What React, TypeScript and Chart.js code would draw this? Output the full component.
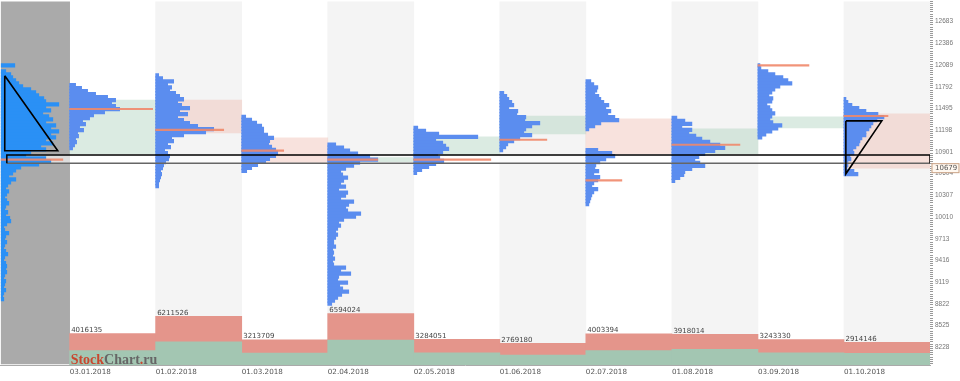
import React, { useEffect, useRef } from 'react';
import { Chart, registerables } from 'chart.js';

Chart.register(...registerables);

// ---- axes / categories ----
const MONTH_LABELS = ['03.01.2018', '01.02.2018', '01.03.2018', '02.04.2018', '02.05.2018', '01.06.2018', '02.07.2018', '01.08.2018', '03.09.2018', '01.10.2018'];
const Y_TICKS = [8228, 8525, 8822, 9119, 9416, 9713, 10010, 10307, 10604, 10901, 11198, 11495, 11792, 12089, 12386, 12683];
const PRICE_MIN = 8001;
const PRICE_MAX = 12954;
const HISTORY_MONTHS = 0.8; // composite panel width, in months
const LAST_PRICE = 10679;

// ---- monthly volume (bottom bars) ----
const VOLUME_TOTAL = [4016135, 6211526, 3213709, 6594024, 3284051, 2769180, 4003394, 3918014, 3243330, 2914146];
const VOLUME_BUY = [1830000, 2980000, 1530000, 3190000, 1570000, 1280000, 1830000, 2000000, 1570000, 1490000];
const VOLUME_AXIS_MAX = 46600000;

// ---- monthly open / close (value boxes) ----
const OPEN = [10878, 11611, 11095, 10769, 10864, 11149, 11353, 10878, 11231, 11421];
const CLOSE = [11611, 11163, 10756, 10824, 11109, 11393, 10878, 11217, 11380, 10679];

// ---- volume profiles (volume per price bin, from month high downward) ----
const PRICE_BIN = 41;
const VOLUME_PER_COLUMN = 86;
const MONTH_HIGH = [11814, 11950, 11380, 11000, 11231, 11706, 11868, 11366, 12085, 11624];
const PROFILE_JAN = [6, 12, 18, 26, 38, 46, 42, 46, 50, 35, 24, 20, 13, 16, 10, 14, 8, 9, 6, 7, 5, 3];
const PROFILE_FEB = [3, 7, 18, 12, 16, 14, 20, 24, 28, 22, 26, 34, 24, 32, 22, 28, 34, 42, 58, 50, 28, 16, 18, 12, 15, 9, 12, 14, 13, 10, 8, 7, 5, 6, 5, 4, 3, 3];
const PROFILE_MAR = [4, 10, 15, 20, 22, 22, 26, 32, 28, 27, 30, 34, 36, 34, 28, 24, 16, 10, 5];
const PROFILE_APR = [8, 16, 22, 30, 42, 50, 32, 26, 18, 13, 15, 20, 16, 13, 18, 11, 20, 18, 13, 26, 21, 18, 20, 33, 28, 16, 11, 13, 10, 8, 10, 8, 6, 6, 8, 5, 6, 5, 7, 5, 6, 18, 13, 23, 11, 10, 20, 12, 15, 21, 14, 10, 7, 4];
const PROFILE_MAY = [4, 12, 25, 64, 22, 29, 32, 35, 29, 24, 26, 30, 22, 15, 8, 3];
const PROFILE_JUN = [4, 7, 9, 12, 14, 9, 18, 17, 26, 25, 40, 32, 26, 24, 32, 20, 14, 8, 6, 3];
const PROFILE_JUL = [5, 8, 12, 11, 9, 13, 15, 18, 23, 20, 25, 22, 29, 33, 15, 9, 3, 0, 0, 0, 0, 0, 0, 12, 26, 29, 20, 14, 10, 9, 13, 8, 14, 12, 8, 6, 12, 8, 6, 5, 4, 3];
const PROFILE_AUG = [5, 13, 20, 10, 20, 17, 24, 30, 38, 48, 53, 43, 33, 27, 23, 28, 33, 20, 13, 12, 8, 3];
const PROFILE_SEP = [2, 3, 10, 17, 25, 30, 34, 22, 17, 14, 11, 15, 14, 9, 12, 14, 17, 14, 12, 15, 24, 20, 14, 8, 4];
const PROFILE_OCT = [2, 4, 8, 15, 22, 34, 40, 33, 29, 27, 25, 22, 22, 18, 16, 15, 12, 9, 10, 6, 7, 4, 4, 3, 10, 14];
const PROFILES = [PROFILE_JAN, PROFILE_FEB, PROFILE_MAR, PROFILE_APR, PROFILE_MAY, PROFILE_JUN, PROFILE_JUL, PROFILE_AUG, PROFILE_SEP, PROFILE_OCT];
const POC_PRICE = [11488, 11203, 10918, 10796, 10796, 11068, 10511, 11000, 12085, 11393];
const POC_VOLUME = [83, 68, 42, 50, 77, 47, 36, 68, 51, 44];

// composite (history) profile
const COMPOSITE_HIGH = 12085;
const COMPOSITE_PROFILE = [14, 0, 5, 10, 12, 15, 18, 22, 30, 35, 38, 43, 45, 58, 45, 50, 42, 48, 52, 45, 55, 50, 58, 50, 55, 45, 52, 40, 45, 30, 25, 45, 50, 38, 20, 15, 12, 8, 15, 10, 7, 5, 8, 6, 4, 6, 8, 5, 4, 7, 5, 9, 10, 6, 3, 4, 8, 5, 4, 6, 4, 3, 5, 7, 4, 3, 5, 6, 5, 6, 4, 3, 5, 4, 3, 5, 3, 2, 3];
const COMPOSITE_POC_PRICE = 10796;
const COMPOSITE_POC_VOLUME = 62;

// ---- drawn annotations (month, price) ----
const LEFT_TRIANGLE = [{ x: -0.754, y: 11943 }, { x: -0.754, y: 10918 }, { x: -0.138, y: 10918 }, { x: -0.754, y: 11943 }];
const RIGHT_TRIANGLE = [{ x: 9.022, y: 11326 }, { x: 9.44, y: 11326 }, { x: 9.022, y: 10602 }, { x: 9.022, y: 11326 }];
const BOX_X = [-0.73, 10];
const BOX_PRICE = [10746, 10860];

const BLUE = '#5b8def';
const COMPOSITE_BLUE = '#2a90f5';
const POC_COLOR = 'rgba(240,136,106,0.9)';

function profileBars(high: number, vols: number[], start: number) {
  const out: any[] = [];
  vols.forEach((v, k) => {
    if (v > 0) out.push({ y: high - k * PRICE_BIN, x: [start, start + v / VOLUME_PER_COLUMN] });
  });
  return out;
}

const labelsPlugin = {
  id: 'labels',
  afterDatasetsDraw(chart: any) {
    const { ctx, scales, chartArea } = chart;
    const xs = scales.x;
    const yv = scales.yv;
    ctx.save();
    ctx.font = '7px "DejaVu Sans"';
    ctx.fillStyle = '#444';
    ctx.textAlign = 'left';
    ctx.textBaseline = 'alphabetic';
    VOLUME_TOTAL.forEach((v, i) => {
      ctx.fillText(String(v), xs.getPixelForValue(i) + 1.5, yv.getPixelForValue(v) - 1.5);
    });
    // watermark
    ctx.font = 'bold 14px "Liberation Serif"';
    let px = xs.getPixelForValue(0) + 1;
    const py = chartArea.bottom - 1.5;
    const parts: [string, string][] = [['Stock', '#c8472f'], ['Chart', '#666666'], ['.', '#c8472f'], ['ru', '#666666']];
    parts.forEach(([t, c]) => {
      ctx.fillStyle = c;
      ctx.fillText(t, px, py);
      px += ctx.measureText(t).width;
    });
    ctx.restore();
  },
  afterDraw(chart: any) {
    const { ctx, scales, chartArea } = chart;
    const y = scales.y.getPixelForValue(LAST_PRICE);
    ctx.save();
    const x0 = chartArea.right + 1.5;
    const w = chart.width - x0 - 0.5;
    ctx.fillStyle = '#fff8f0';
    ctx.strokeStyle = '#c9a184';
    ctx.lineWidth = 1;
    ctx.fillRect(x0, y - 4.5, w, 9);
    ctx.strokeRect(x0 + 0.5, y - 4.5, w - 1, 9);
    ctx.fillStyle = '#555';
    ctx.font = '7px "DejaVu Sans"';
    ctx.textBaseline = 'middle';
    ctx.textAlign = 'left';
    ctx.fillText(String(LAST_PRICE), x0 + 3.5, y + 0.5);
    ctx.restore();
  },
};

const noPad = (s: any) => { s.paddingTop = 0; s.paddingBottom = 0; s.paddingLeft = 0; s.paddingRight = 0; };

export default function App() {
  const ref = useRef<HTMLCanvasElement>(null);
  useEffect(() => {
    document.body.style.margin = '0';
    const n = MONTH_LABELS.length;
    const datasets: any[] = [];

    // background panels
    datasets.push({
      type: 'bar', order: 100, _spanX: HISTORY_MONTHS, backgroundColor: '#aaaaaa',
      data: [{ x: -HISTORY_MONTHS / 2, y: [PRICE_MIN, PRICE_MAX] }],
    });
    datasets.push({
      type: 'bar', order: 99, _spanX: 1, backgroundColor: '#f4f4f4',
      data: MONTH_LABELS.map((_, i) => i).filter((i) => i % 2 === 1).map((i) => ({ x: i + 0.5, y: [PRICE_MIN, PRICE_MAX] })),
    });
    // range box fill
    datasets.push({
      type: 'bar', order: 95, indexAxis: 'y', _spanY: BOX_PRICE[1] - BOX_PRICE[0], backgroundColor: 'rgba(255,255,255,0.6)',
      data: [{ y: (BOX_PRICE[0] + BOX_PRICE[1]) / 2, x: BOX_X }],
    });
    // open/close value boxes
    datasets.push({
      type: 'bar', order: 90, _spanX: 1,
      backgroundColor: OPEN.map((o, i) => (CLOSE[i] >= o ? 'rgba(175,210,190,0.45)' : 'rgba(240,190,180,0.45)')),
      data: OPEN.map((o, i) => ({ x: i + 0.5, y: [o, CLOSE[i]] })),
    });
    // composite profile
    datasets.push({
      type: 'bar', order: 80, indexAxis: 'y', _spanY: PRICE_BIN, _extra: 0.6, backgroundColor: COMPOSITE_BLUE,
      data: profileBars(COMPOSITE_HIGH, COMPOSITE_PROFILE, -HISTORY_MONTHS),
    });
    // monthly profiles
    PROFILES.forEach((p, i) => {
      datasets.push({
        type: 'bar', order: 80, indexAxis: 'y', _spanY: PRICE_BIN, _extra: 0.6, backgroundColor: BLUE,
        data: profileBars(MONTH_HIGH[i], p, i),
      });
    });
    // POC lines
    datasets.push({
      type: 'bar', order: 70, indexAxis: 'y', barThickness: 1.5, backgroundColor: POC_COLOR,
      data: [
        { y: COMPOSITE_POC_PRICE, x: [-HISTORY_MONTHS, -HISTORY_MONTHS + COMPOSITE_POC_VOLUME / VOLUME_PER_COLUMN] },
        ...POC_PRICE.map((p, i) => ({ y: p, x: [i, i + POC_VOLUME[i] / VOLUME_PER_COLUMN] })),
      ],
    });
    // volume bars
    datasets.push({
      type: 'bar', order: 60, yAxisID: 'yv', _spanX: 1, backgroundColor: '#a3c6b2',
      data: VOLUME_BUY.map((v, i) => ({ x: i + 0.5, y: [0, v] })),
    });
    datasets.push({
      type: 'bar', order: 60, yAxisID: 'yv', _spanX: 1, backgroundColor: '#e4958b',
      data: VOLUME_BUY.map((v, i) => ({ x: i + 0.5, y: [v, VOLUME_TOTAL[i]] })),
    });
    // annotations
    const lineBase = { type: 'line', order: 10, pointRadius: 0, fill: false, tension: 0 };
    datasets.push({ ...lineBase, borderColor: '#000', borderWidth: 1.6, data: LEFT_TRIANGLE });
    datasets.push({ ...lineBase, borderColor: '#000', borderWidth: 1.6, data: RIGHT_TRIANGLE });
    datasets.push({
      ...lineBase, borderColor: '#000', borderWidth: 1.5,
      data: [{ x: BOX_X[0], y: BOX_PRICE[0] }, { x: BOX_X[0], y: BOX_PRICE[1] }, { x: BOX_X[1], y: BOX_PRICE[1] }, { x: BOX_X[1], y: BOX_PRICE[0] }],
    });
    datasets.push({
      ...lineBase, borderColor: '#666', borderWidth: 1.5,
      data: [{ x: BOX_X[1], y: BOX_PRICE[0] }, { x: BOX_X[0], y: BOX_PRICE[0] }],
    });

    const chart = new Chart(ref.current as HTMLCanvasElement, {
      type: 'bar',
      data: { datasets } as any,
      plugins: [labelsPlugin],
      options: {
        animation: false,
        responsive: false,
        events: [],
        layout: { padding: 0 },
        datasets: { bar: { grouped: false } } as any,
        plugins: { legend: { display: false }, tooltip: { enabled: false } },
        scales: {
          x: {
            type: 'linear', min: -HISTORY_MONTHS, max: n, offset: false,
            grid: { display: false, offset: false, drawTicks: false },
            border: { display: true, color: '#aaaaaa' },
            afterBuildTicks: (s: any) => { s.ticks = MONTH_LABELS.map((_, i) => ({ value: i })); },
            afterFit: (s: any) => { s.height = 16; noPad(s); },
            ticks: {
              autoSkip: false, maxRotation: 0, align: 'start', padding: 3, color: '#555',
              font: { family: 'DejaVu Sans', size: 7.2 },
              callback: (_v: any, i: number) => MONTH_LABELS[i],
            },
          },
          y: {
            type: 'linear', position: 'right', min: PRICE_MIN, max: PRICE_MAX,
            grid: { drawOnChartArea: false, drawTicks: true, tickLength: 3, color: '#999' },
            border: { display: false },
            afterBuildTicks: (s: any) => {
              const step = (Y_TICKS[1] - Y_TICKS[0]) / 10;
              const ticks: any[] = [];
              let v = Y_TICKS[0] - step * Math.floor((Y_TICKS[0] - PRICE_MIN) / step);
              for (; v <= PRICE_MAX; v += step) ticks.push({ value: v });
              s.ticks = ticks;
            },
            afterFit: (s: any) => { s.width = 30; noPad(s); },
            ticks: {
              autoSkip: false, padding: 2, color: '#777',
              font: { family: 'Liberation Sans', size: 6.5 },
              callback: (value: any) => {
                const m = Y_TICKS.find((t) => Math.abs(t - value) < 1);
                return m ? String(m) : '';
              },
            },
          },
          yv: { type: 'linear', display: false, min: 0, max: VOLUME_AXIS_MAX },
        },
      } as any,
    });

    const xs: any = chart.scales.x;
    const ys: any = chart.scales.y;
    const pxPerMonth = Math.abs(xs.getPixelForValue(1) - xs.getPixelForValue(0));
    const pxPerPrice = Math.abs(ys.getPixelForValue(PRICE_MIN) - ys.getPixelForValue(PRICE_MIN + 1));
    chart.data.datasets.forEach((d: any) => {
      if (d._spanX) d.barThickness = d._spanX * pxPerMonth;
      if (d._spanY) d.barThickness = d._spanY * pxPerPrice + (d._extra || 0);
    });
    chart.update('none');

    return () => chart.destroy();
  }, []);

  return (
    <div style={{ width: 960, height: 381 }}>
      <canvas ref={ref} width={960} height={381} style={{ display: 'block' }} />
    </div>
  );
}
